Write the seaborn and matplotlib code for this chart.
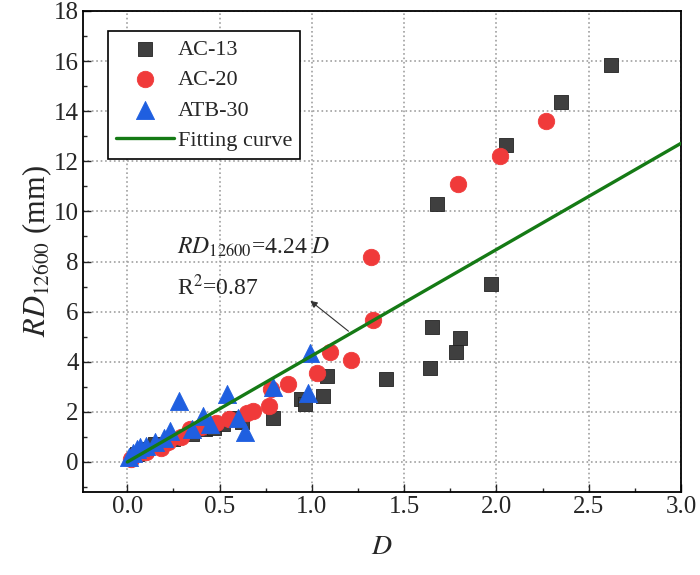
import numpy as np
import pandas as pd
import seaborn as sns
import matplotlib.pyplot as plt
from matplotlib.ticker import MultipleLocator

# AC-13 points
ac13_x = [0.05, 0.10, 0.15, 0.25, 0.35, 0.42, 0.47, 0.52, 0.58, 0.62, 0.79, 0.94, 0.96,
          1.06, 1.08, 1.40, 1.64, 1.65, 1.78, 1.80, 1.97, 1.68, 2.05, 2.35, 2.62]
ac13_y = [0.3, 0.5, 0.7, 0.9, 1.1, 1.3, 1.35, 1.5, 1.75, 1.6, 1.75, 2.5, 2.3,
          2.65, 3.45, 3.3, 3.75, 5.4, 4.4, 4.95, 7.1, 10.3, 12.65, 14.35, 15.85]

# AC-20 points
ac20_x = [0.02, 0.05, 0.10, 0.18, 0.22, 0.29, 0.34, 0.40, 0.48, 0.55, 0.65, 0.68,
          0.77, 0.78, 0.87, 1.03, 1.10, 1.21, 1.33, 1.32, 1.79, 2.02, 2.27]
ac20_y = [0.1, 0.3, 0.4, 0.55, 0.8, 1.0, 1.3, 1.4, 1.55, 1.7, 1.95, 2.05,
          2.25, 2.9, 3.1, 3.55, 4.4, 4.05, 5.65, 8.2, 11.1, 12.2, 13.6]

# ATB-30 points
atb30_x = [0.01, 0.03, 0.05, 0.07, 0.10, 0.15, 0.20, 0.23, 0.28, 0.35, 0.41, 0.45,
           0.54, 0.60, 0.64, 0.79, 0.98, 0.99]
atb30_y = [0.2, 0.35, 0.5, 0.6, 0.65, 0.8, 0.95, 1.25, 2.45, 1.3, 1.85, 1.5,
           2.7, 1.75, 1.2, 3.0, 2.75, 4.35]

fit_slope = 4.24
fit_r2 = 0.87
fit_x = [0.0, 3.0]

df = pd.concat([
    pd.DataFrame({'D': ac13_x, 'RD': ac13_y, 'type': 'AC-13'}),
    pd.DataFrame({'D': ac20_x, 'RD': ac20_y, 'type': 'AC-20'}),
    pd.DataFrame({'D': atb30_x, 'RD': atb30_y, 'type': 'ATB-30'}),
])
fit_df = pd.DataFrame({'D': fit_x, 'RD': [fit_slope * v for v in fit_x]})

sns.set_style('ticks')
plt.rcParams['font.family'] = ['Liberation Serif', 'DejaVu Serif']
plt.rcParams['mathtext.fontset'] = 'stix'

palette = {'AC-13': '#3f3f3f', 'AC-20': '#f03a3a', 'ATB-30': '#1f5fe0'}
markers = {'AC-13': 's', 'AC-20': 'o', 'ATB-30': '^'}
sizes = {'AC-13': 110, 'AC-20': 140, 'ATB-30': 170}

fig = plt.figure(figsize=(7, 5.75), dpi=100)
ax = fig.add_axes([0.1186, 0.1443, 0.8543, 0.8366])

for t in ['AC-13', 'AC-20', 'ATB-30']:
    sub = df[df['type'] == t]
    sns.scatterplot(data=sub, x='D', y='RD', color=palette[t], marker=markers[t],
                    s=sizes[t], edgecolor=palette[t] if t != 'AC-13' else '#222222',
                    linewidth=0.6, ax=ax, label=t, zorder=3)

sns.lineplot(data=fit_df, x='D', y='RD', color='#157a15', linewidth=2.4, ax=ax,
             label='Fitting curve', zorder=4)

ax.set_xlim(-0.24, 3.0)
ax.set_ylim(-1.2, 18)
ax.xaxis.set_major_locator(MultipleLocator(0.5))
ax.xaxis.set_minor_locator(MultipleLocator(0.25))
ax.yaxis.set_major_locator(MultipleLocator(2))
ax.yaxis.set_minor_locator(MultipleLocator(1))
ax.xaxis.set_major_formatter(plt.FuncFormatter(lambda v, p: f'{v:.1f}'))
ax.tick_params(which='major', direction='in', length=6, width=1, labelsize=18, pad=3)
ax.tick_params(which='minor', direction='in', length=3, width=1)
ax.grid(True, which='major', linestyle=':', color='#a0a0a0', linewidth=1.2)
ax.set_axisbelow(True)
for sp in ax.spines.values():
    sp.set_visible(True)
    sp.set_linewidth(1.3)
    sp.set_color('black')

ax.set_xlabel(r'$D$', fontsize=20, labelpad=12)
ax.set_ylabel(r'$RD_{\mathrm{12600}}$ (mm)', fontsize=22, labelpad=0)

ax.text(0.27, 8.55, r'$RD_{\mathrm{12600}}$=4.24 $D$', fontsize=17, va='center', ha='left')
ax.text(0.27, 6.95, r'R$^2$=0.87', fontsize=17, va='center', ha='left')
ax.annotate('', xy=(0.98, 6.5), xytext=(1.21, 5.15),
            arrowprops=dict(arrowstyle='-|>', color='#333333', lw=0.8, mutation_scale=10))

leg = ax.legend(loc='upper left', bbox_to_anchor=(0.042, 0.958), fontsize=16,
                frameon=True, fancybox=False, edgecolor='black', framealpha=1,
                handlelength=2.6, handletextpad=0.2, borderpad=0.35, labelspacing=0.45,
                borderaxespad=0)
leg.get_frame().set_linewidth(1.2)

fig.savefig('out.png', dpi=100)
